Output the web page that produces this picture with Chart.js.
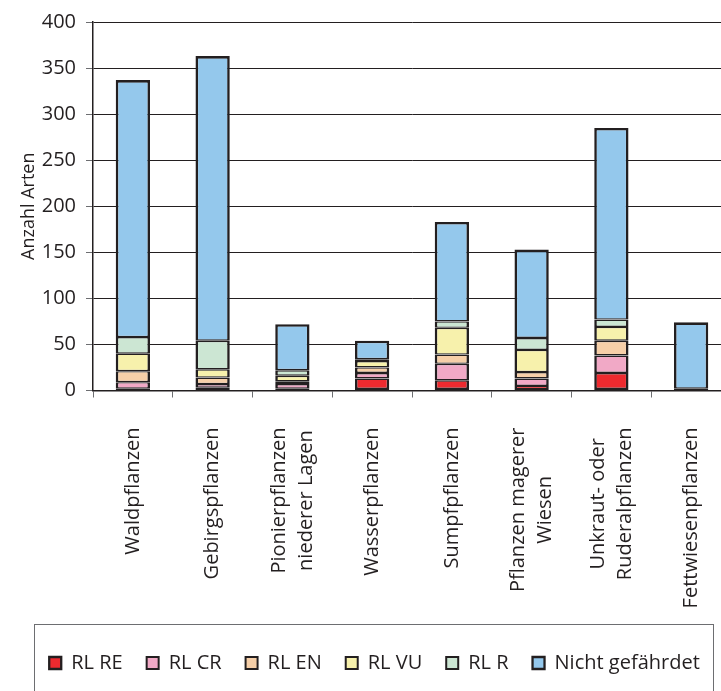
<!DOCTYPE html>
<html>
<head>
<meta charset="utf-8">
<script src="https://cdn.jsdelivr.net/npm/chart.js@4/dist/chart.umd.min.js"></script>
<style>
  html, body { margin: 0; padding: 0; background: #fff; overflow: hidden; width: 721px; height: 691px; }
  #wrap { width: 740px; height: 691px; }
</style>
</head>
<body>
<div id="wrap"><canvas id="chart" width="740" height="691"></canvas></div>
<script>
/* DATA */
const categories = [
  ["Waldpflanzen"],
  ["Gebirgspflanzen"],
  ["Pionierpflanzen", "niederer Lagen"],
  ["Wasserpflanzen"],
  ["Sumpfpflanzen"],
  ["Pflanzen magerer", "Wiesen"],
  ["Unkraut- oder", "Ruderalpflanzen"],
  ["Fettwiesenpflanzen"]
];
const rlRE   = [2, 3, 2, 13, 11, 5, 19, 0];
const rlCR   = [7, 4, 5, 6, 18, 8, 19, 0];
const rlEN   = [12, 7, 3, 6, 10, 7, 16, 0];
const rlVU   = [19, 9, 6, 7, 29, 24, 15, 0];
const rlR    = [18, 31, 6, 2, 7, 13, 8, 2];
const nicht  = [279, 309, 50, 20, 108, 96, 208, 72];
const yMax = 400, yStep = 50;

/* STYLE */
const INK = "#231f20";
const FONT = '"Open Sans", "Noto Sans", sans-serif';
const sideBorder = { top: 1.4, bottom: 1.4, left: 2.6, right: 2.6 };

const ds = (label, data, color, extra) => ({
  label, data,
  backgroundColor: color,
  borderColor: INK,
  borderWidth: Object.assign({}, sideBorder, extra || {}),
  borderSkipped: false,
  barPercentage: 0.43,
  categoryPercentage: 1
});

/* x labels: rotated, lines centred, drawn from the category scale */
const xLabels = {
  id: "xLabels",
  afterDraw(c) {
    const { ctx } = c, x = c.scales.x;
    ctx.save();
    ctx.font = "20px " + FONT;
    ctx.fillStyle = INK;
    ctx.textAlign = "center";
    ctx.textBaseline = "middle";
    categories.forEach((lines, i) => {
      const px = x.getPixelForValue(i);
      const w = Math.max(...lines.map(l => ctx.measureText(l).width));
      ctx.save();
      ctx.translate(px, x.top + 37);
      ctx.rotate(-Math.PI / 2);
      lines.forEach((l, j) => ctx.fillText(l, -w / 2, (j - (lines.length - 1) / 2) * 27));
      ctx.restore();
    });
    // legend frame
    ctx.strokeStyle = "#6d6e71";
    ctx.lineWidth = 1;
    ctx.strokeRect(34.5, 624.5, 679, 100);
    ctx.restore();
  }
};

new Chart(document.getElementById("chart"), {
  type: "bar",
  data: {
    labels: categories,
    datasets: [
      ds("RL RE", rlRE, "#ed2a2f", { bottom: 2.6 }),
      ds("RL CR", rlCR, "#f1a9c6"),
      ds("RL EN", rlEN, "#f6cfa8"),
      ds("RL VU", rlVU, "#f7f1ac"),
      ds("RL R", rlR, "#cce6d3"),
      ds("Nicht gefährdet", nicht, "#94c8ec", { top: 2.6 })
    ]
  },
  options: {
    responsive: false,
    animation: false,
    layout: { padding: { top: 20, left: 18, right: 9, bottom: 8 } },
    plugins: {
      tooltip: { enabled: false },
      legend: {
        position: "bottom",
        labels: {
          color: INK,
          font: { family: FONT, size: 20 },
          boxWidth: 12,
          boxHeight: 12,
          padding: 24
        }
      }
    },
    scales: {
      x: {
        stacked: true,
        offset: true,
        ticks: { display: false },
        grid: { drawOnChartArea: false, drawTicks: true, tickLength: 7, color: "#6d6e71", offset: true },
        border: { color: INK, width: 1.5 },
        afterFit: s => { s.height = 238.5; }
      },
      y: {
        stacked: true,
        min: 0,
        max: yMax,
        ticks: { stepSize: yStep, color: INK, padding: 10, font: { family: FONT, size: 20 } },
        grid: { color: INK, lineWidth: 1, tickLength: 7, tickColor: "#6d6e71" },
        border: { color: INK, width: 1.5 },
        title: { display: true, text: "Anzahl Arten", color: INK, padding: 0, font: { family: FONT, size: 18 } },
        afterFit: s => { s.width = 75; }
      }
    }
  },
  plugins: [xLabels]
});
</script>
</body>
</html>
